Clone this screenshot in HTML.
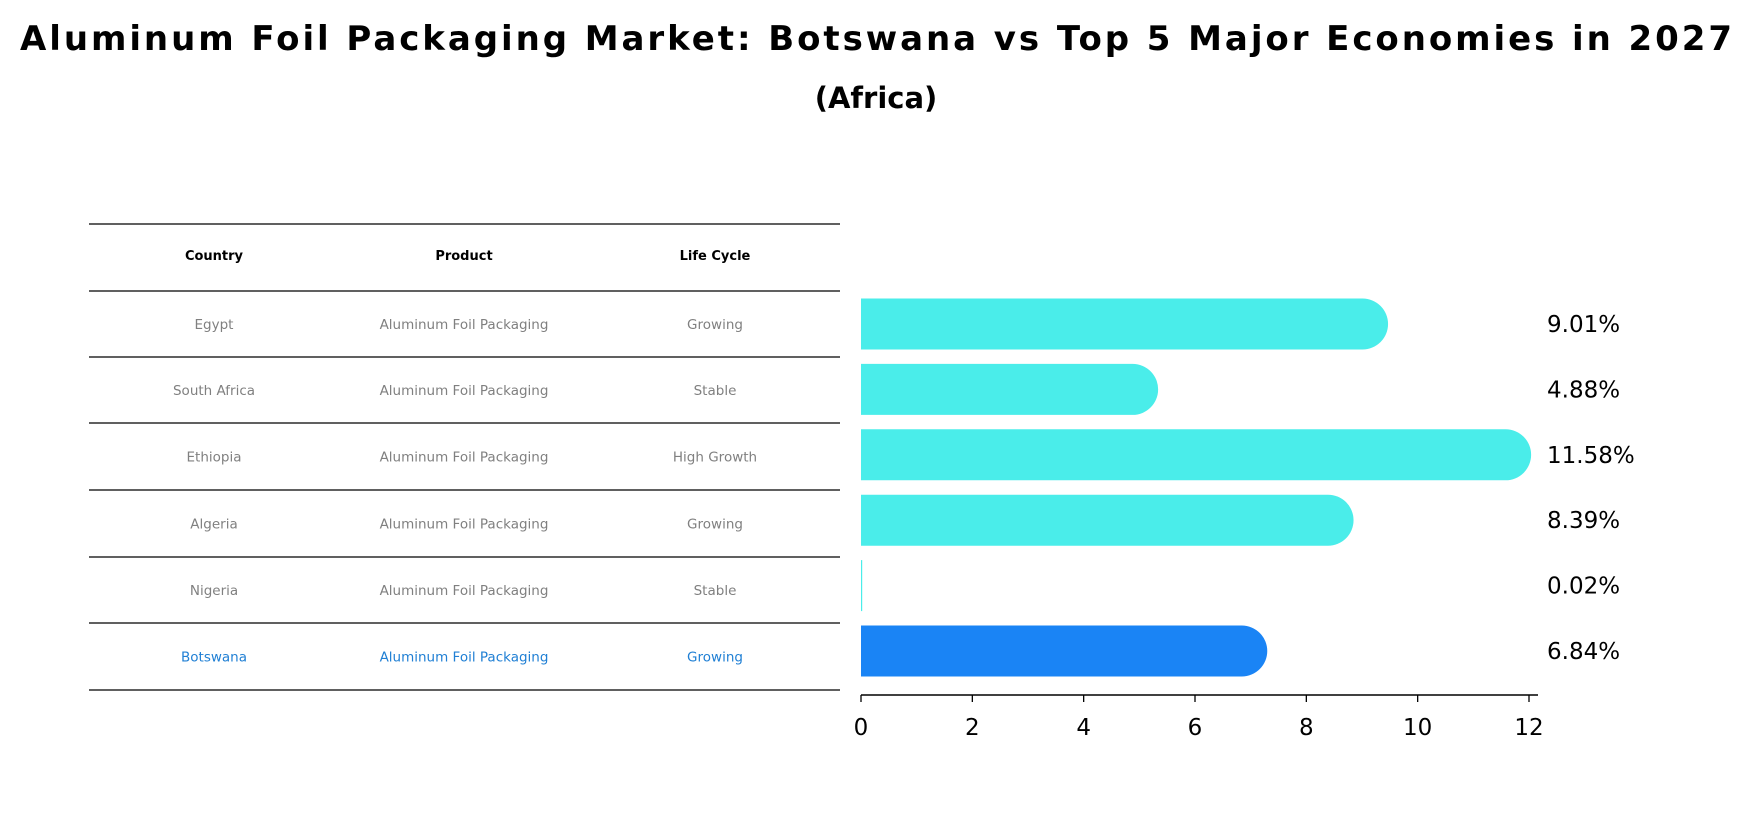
<!DOCTYPE html>
<html><head><meta charset="utf-8"><style>
body{margin:0;background:#fff;}
svg text{font-family:"DejaVu Sans","Liberation Sans",sans-serif;}
</style></head><body>
<svg width="1753" height="823" viewBox="0 0 1753 823" xmlns="http://www.w3.org/2000/svg">
<text x="876" y="50" text-anchor="middle" font-size="34" font-weight="bold" textLength="1712">Aluminum Foil Packaging Market: Botswana vs Top 5 Major Economies in 2027</text>
<text x="876" y="108" text-anchor="middle" font-size="29" font-weight="bold">(Africa)</text>
<g id="table"></g>
<g id="bars"></g>
</svg>
<script>
const countries=["Egypt","South Africa","Ethiopia","Algeria","Nigeria","Botswana"];
const products=["Aluminum Foil Packaging","Aluminum Foil Packaging","Aluminum Foil Packaging","Aluminum Foil Packaging","Aluminum Foil Packaging","Aluminum Foil Packaging"];
const lifecycles=["Growing","Stable","High Growth","Growing","Stable","Growing"];
const values=[9.01,4.88,11.58,8.39,0.02,6.84];
const ticks=[0,2,4,6,8,10,12];
const NS="http://www.w3.org/2000/svg";
function mk(t,a,p){const e=document.createElementNS(NS,t);for(const k in a)e.setAttribute(k,a[k]);p.appendChild(e);return e;}
const tbl=document.getElementById('table');
const lineYs=[224,291,357,423,490,557,623,690];
const colX=[214,464,715];
lineYs.forEach((y,i)=>{const l=mk('line',{x1:89,x2:840,y1:y,y2:y,stroke:'#000','stroke-width':1.3},tbl);

});
["Country","Product","Life Cycle"].forEach((h,i)=>{const t=mk('text',{x:colX[i],y:260,'text-anchor':'middle','font-size':13,'font-weight':'bold'},tbl);t.textContent=h;

});
countries.forEach((c,r)=>{const cy=(lineYs[r+1]+lineYs[r+2])/2+5;const col=r===5?'#1f7fd4':'#808080';
[c,products[r],lifecycles[r]].forEach((v,i)=>{const t=mk('text',{x:colX[i],y:cy,'text-anchor':'middle','font-size':13.5,fill:col},tbl);t.textContent=v;

});});
const g=document.getElementById('bars');
const x0=861,x1=1529,xmax=12;const xs=v=>x0+(x1-x0)*v/xmax;
const yc=i=>324+i*65.4;const bh=51,rad=25.5;
values.forEach((v,i)=>{const col=i===5?'#1a84f5':'#4aedea';const w=xs(v)-x0;let e;
if(v<0.5){e=mk('rect',{x:x0,y:yc(i)-bh/2,width:Math.max(w,1.2),height:bh,fill:col},g);}
else{const xe=xs(v);e=mk('path',{d:`M${x0},${yc(i)-bh/2}H${xe}A${rad},${bh/2} 0 0 1 ${xe},${yc(i)+bh/2}H${x0}Z`,fill:col},g);}


const t=mk('text',{x:1547,y:yc(i)+8,'font-size':23},g);t.textContent=v.toFixed(2)+'%';

});
const ax=mk('line',{x1:x0,x2:1538,y1:695,y2:695,stroke:'#000','stroke-width':1.5},g);


ticks.forEach(v=>{const tk=mk('line',{x1:xs(v),x2:xs(v),y1:695,y2:702,stroke:'#000','stroke-width':1.3},g);


const t=mk('text',{x:xs(v),y:735,'text-anchor':'middle','font-size':23},g);t.textContent=v;

});
</script>
</body></html>
